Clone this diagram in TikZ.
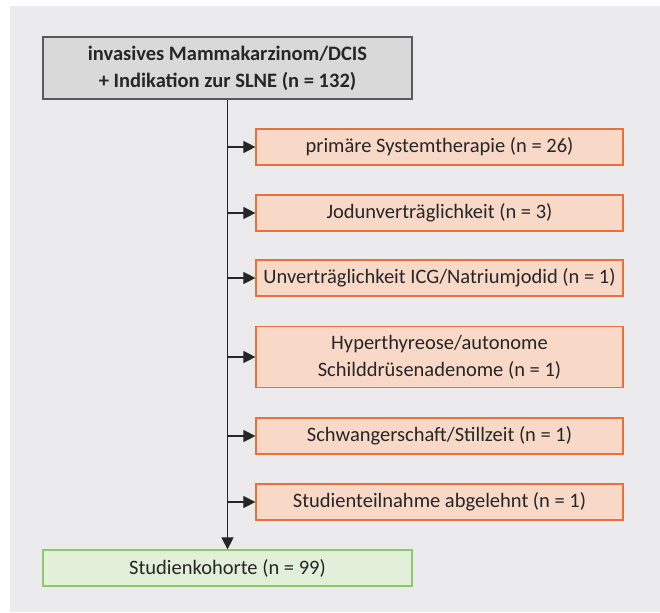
\documentclass[tikz,border=0pt]{standalone}
\usepackage{fontspec}
\setmainfont{Carlito}
\usepackage{tikz}
\usepackage{xcolor}
\usetikzlibrary{
    arrows.meta,
    positioning
}
\definecolor{hintergrund}{HTML}{EBEBED}
\definecolor{startfill}{HTML}{D9D9D9}
\definecolor{startline}{HTML}{595959}
\definecolor{ausfill}{HTML}{F8D9C8}
\definecolor{ausline}{HTML}{E8703A}
\definecolor{kohfill}{HTML}{E2EFD9}
\definecolor{kohline}{HTML}{8CC968}

\begin{document}
\begin{tikzpicture}[x=1pt, y=-1pt,
                        every node/.style={font=\fontsize{20.5}{27}\selectfont, text=black!85, align=center, inner sep=2pt},
                        startbox/.style={draw=startline, fill=startfill, line width=1.2pt, minimum width=369pt, minimum height=62pt},
                        ausbox/.style={draw=ausline, fill=ausfill, line width=1.2pt, minimum width=367pt, minimum height=36pt},
                        kohbox/.style={draw=kohline, fill=kohfill, line width=1.2pt, minimum width=369pt, minimum height=36pt},
                        pfeil/.style={line width=1.1pt, black!85, -{Triangle[length=12pt, width=12pt]}}
                    ]
                        \useasboundingbox (0, 0) rectangle (660, 612);
                        \fill[hintergrund] (10, 6) rectangle (660, 612);

                        \node[startbox, font=\fontsize{20.5}{27}\selectfont\bfseries] (start) at (227.5, 68) {invasives Mammakarzinom/DCIS\\+ Indikation zur SLNE (n = 132)};

                        \node[ausbox] (aus1) at (439.5, 147) {primäre Systemtherapie (n = 26)};
                        \node[ausbox] (aus2) at (439.5, 213) {Jodunverträglichkeit (n = 3)};
                        \node[ausbox] (aus3) at (439.5, 278) {Unverträglichkeit ICG/Natriumjodid (n = 1)};
                        \node[ausbox, minimum height=61pt] (aus4) at (439.5, 357) {Hyperthyreose/autonome\\Schilddrüsenadenome (n = 1)};
                        \node[ausbox] (aus5) at (439.5, 436) {Schwangerschaft/Stillzeit (n = 1)};
                        \node[ausbox] (aus6) at (439.5, 502) {Studienteilnahme abgelehnt (n = 1)};

                        \node[kohbox] (kohorte) at (227.5, 568) {Studienkohorte (n = 99)};

                        \draw[pfeil] (start) -- (kohorte);
                        \foreach \i in {1, ..., 6}
                            \draw[pfeil] (start.south |- aus\i.west) -- (aus\i.west);
                    \end{tikzpicture}
\end{document}
